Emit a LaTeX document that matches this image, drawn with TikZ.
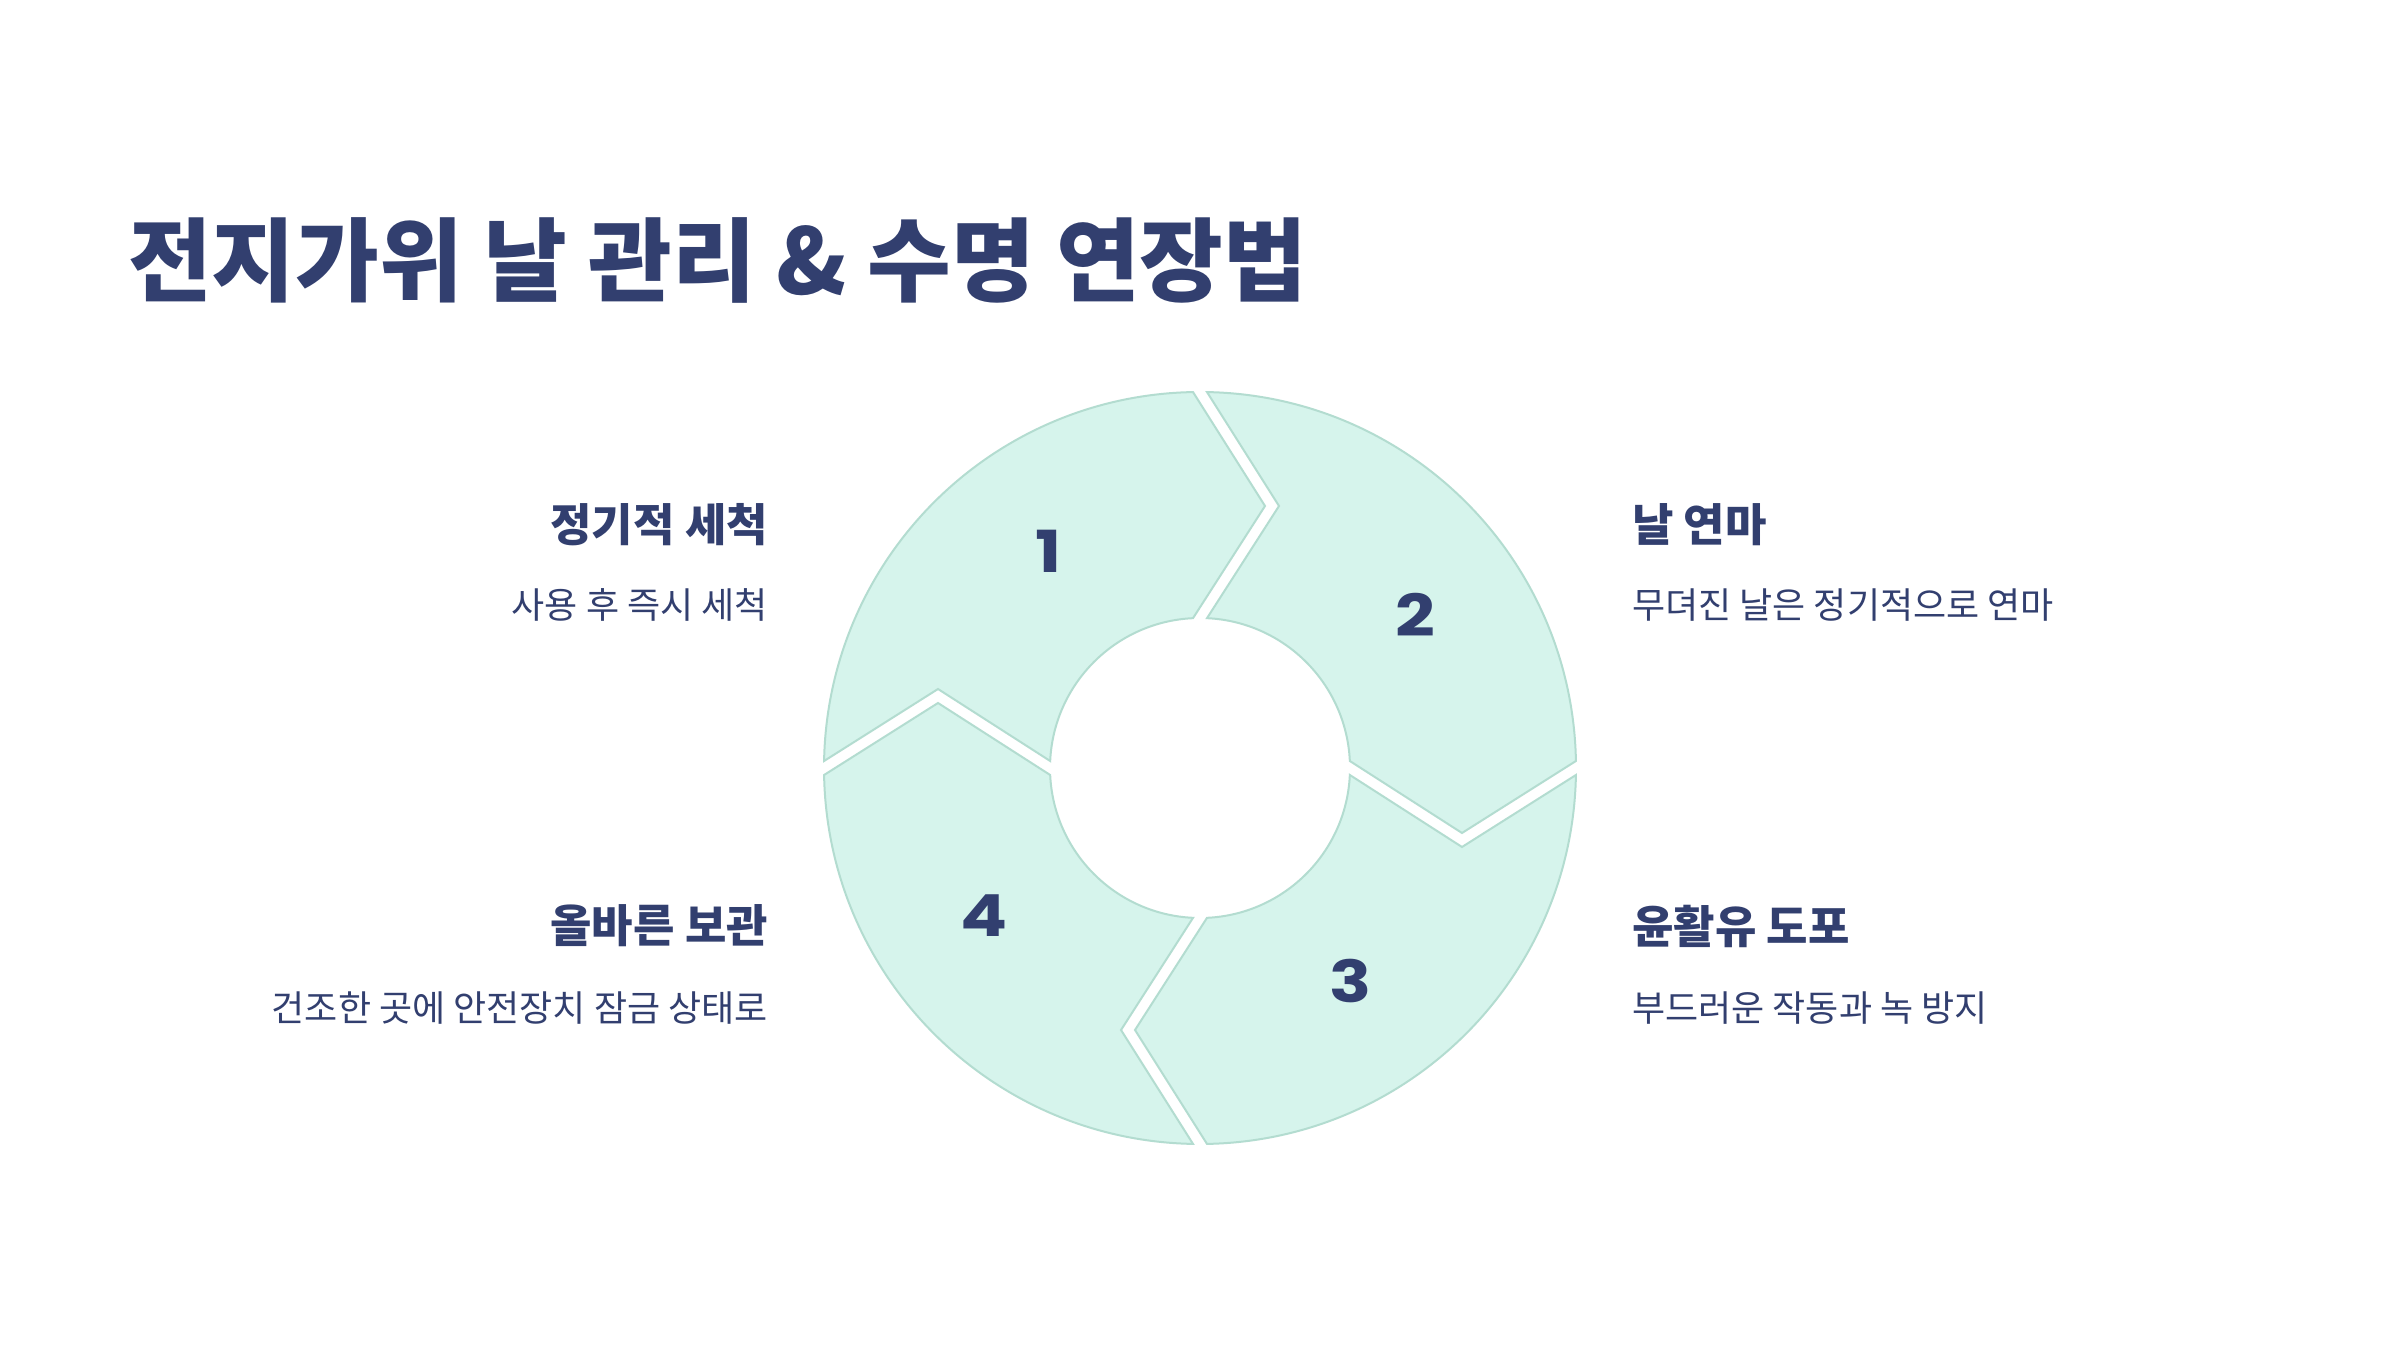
\documentclass[tikz,border=0pt]{standalone}
\usepackage{fontspec}
\newfontfamily\kr{Noto Sans CJK KR}
\newfontfamily\numfont{Poppins}
\definecolor{navy}{HTML}{323F6F}
\definecolor{segfill}{HTML}{D6F4EC}
\definecolor{segline}{HTML}{B3DCD0}
\newcommand{\widenum}[1]{\scalebox{1.2}[1]{#1}}
\begin{document}
\begin{tikzpicture}[x=1pt,y=1pt,
  seg/.style={fill=segfill,draw=segline,line width=2pt,line join=miter},
  num/.style={text=navy,inner sep=0pt,font=\numfont\bfseries\fontsize{58}{60}\selectfont},
  head/.style={text=navy,inner sep=0pt,font=\kr\bfseries\fontsize{45}{52}\selectfont},
  sub/.style={text=navy,inner sep=0pt,font=\kr\fontsize{36}{42}\selectfont},
  ttl/.style={text=navy,inner sep=0pt,font=\kr\bfseries\fontsize{91}{106}\selectfont}]
\useasboundingbox (0,0) rectangle (2400,1350);
\fill[white] (0,0) rectangle (2400,1350);
\begin{scope}[shift={(1200,582)}]
\foreach \r in {0,-90,-180,-270}{
  \begin{scope}[rotate=\r]
  \path[seg] (178.933:376) -- (-262,79) -- (177.325:150)
     arc[start angle=177.325, end angle=92.675, radius=150]
     -- (65,262) -- (91.067:376)
     arc[start angle=91.067, end angle=178.933, radius=376] -- cycle;
  \end{scope}}
\end{scope}
\node[num] (n1) at (1048.5,799) {\widenum{1}};
\node[num] (n2) at (1415,735) {\widenum{2}};
\node[num] (n3) at (1351,369) {\widenum{3}};
\node[num] (n4) at (984,434) {\widenum{4}};
\node[ttl,anchor=west] (title) at (128,1090) {전지가위 날 관리 \& 수명 연장법};
\node[head,anchor=east] (h1) at (768,825) {정기적 세척};
\node[sub,anchor=east] (s1) at (768,745) {사용 후 즉시 세척};
\node[head,anchor=east] (h4) at (768,424) {올바른 보관};
\node[sub,anchor=east] (s4) at (768,342) {건조한 곳에 안전장치 잠금 상태로};
\node[head,anchor=west] (h2) at (1632,825) {날 연마};
\node[sub,anchor=west] (s2) at (1632,745) {무뎌진 날은 정기적으로 연마};
\node[head,anchor=west] (h3) at (1632,424) {윤활유 도포};
\node[sub,anchor=west] (s3) at (1632,342) {부드러운 작동과 녹 방지};
\end{tikzpicture}
\end{document}
